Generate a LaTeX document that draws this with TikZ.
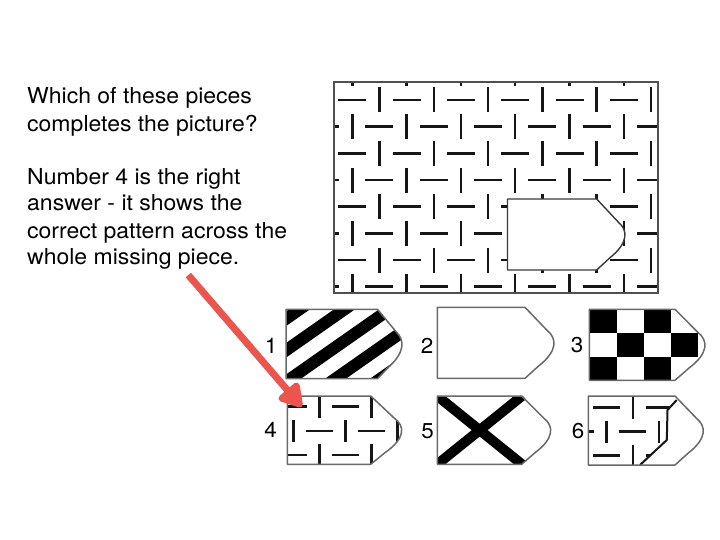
\documentclass[tikz,border=0pt]{standalone}
\usepackage{fontspec}
\setmainfont{TeX Gyre Heros}[FakeStretch=1.045]
\usetikzlibrary{arrows.meta}
\definecolor{arrowred}{RGB}{234,86,78}
\definecolor{ink}{RGB}{22,22,22}
\definecolor{edgegray}{RGB}{105,105,105}
\definecolor{framegray}{RGB}{80,80,80}

% piece outline: left, top, bottom, flat right end, tip x
\newcommand\pieceshape[5]{(#1,#2) -- (#4,#2) -- ({#4+0.75*(#5-#4)},{#2+0.32*(#3-#2)}) .. controls ({#4+1.12*(#5-#4)},{#2+0.44*(#3-#2)}) and ({#4+1.12*(#5-#4)},{#2+0.62*(#3-#2)}) .. ({#4+0.46*(#5-#4)},{#2+0.83*(#3-#2)}) -- (#4,#3) -- (#1,#3) -- cycle}

% dash pattern: ox, oy, period, row spacing, half horiz length, half vert length, last row, last column
\newcommand\dashgrid[8]{%
  \foreach \r in {-1,...,#7}{%
    \foreach \k in {-1,...,#8}{%
      \pgfmathtruncatemacro\rp{mod(\r+10,2)}%
      \pgfmathsetmacro\yy{#2+\r*#4}%
      \pgfmathsetmacro\xh{#1+(\k+0.5*\rp)*#3}%
      \pgfmathsetmacro\xv{#1+(\k+0.5*(1-\rp))*#3}%
      \draw[dashline] ({\xh-#5},\yy) -- ({\xh+#5},\yy);
      \draw[dashline] (\xv,{\yy-#6}) -- (\xv,{\yy+#6});
    }}}

\tikzset{
  dashline/.style={ink, line width=2.5pt},
  pieceline/.style={edgegray, line width=1.5pt, line join=round},
  txt/.style={anchor=base west, inner sep=0pt, font=\fontsize{22}{26}\selectfont},
  num/.style={inner sep=0pt, font=\fontsize{21.5}{26}\selectfont},
}

\begin{document}
\begin{tikzpicture}[x=1pt, y=-1pt]
\useasboundingbox (0,0) rectangle (720,540);
\fill[white] (0,0) rectangle (720,540);

% ---- text ----
\node[txt] (q1) at (27,103.3) {Which of these pieces};
\node[txt] (q2) at (27,131.5) {completes the picture?};
\node[txt] (a1) at (27,184.3) {Number 4 is the right};
\node[txt] (a2) at (27,211) {answer - it shows the};
\node[txt] (a3) at (27,238) {correct pattern across the};
\node[txt] (a4) at (27,264.5) {whole missing piece.};

% ---- main picture ----
\begin{scope}
  \clip (334,82) rectangle (658,293);
  \dashgrid{352.3}{100}{54.3}{26.67}{14}{12.5}{8}{6}
\end{scope}
\draw[framegray, line width=1.3pt] (334,82) rectangle (658,293);
\filldraw[fill=white, draw=ink!85, line width=1.4pt, line join=round] \pieceshape{507.5}{199}{270}{596.7}{625};

% ---- piece 1: stripes ----
\begin{scope}
  \clip \pieceshape{286}{309.3}{378.7}{377.5}{402};
  \foreach \k in {-2,...,3}{
    \draw[black, line width=12pt] ({290+45*\k-80},{379+56}) -- ({290+45*\k+120},{379-84});
  }
\end{scope}
\draw[pieceline] \pieceshape{286}{309.3}{378.7}{377.5}{402};

% ---- piece 2: blank ----
\draw[pieceline] \pieceshape{437.3}{307.3}{378.3}{525}{554};

% ---- piece 3: checkerboard ----
\begin{scope}
  \clip \pieceshape{589.3}{309.3}{380.3}{675}{705};
  \foreach \i in {0,1,2}{
    \foreach \j in {0,1,2,3}{
      \pgfmathtruncatemacro\cb{mod(\i+\j,2)}
      \ifnum\cb=0
        \fill[black] ({589.3+27.2*\j},{309.3+23.7*\i}) rectangle ({589.3+27.2*(\j+1)},{309.3+23.7*(\i+1)});
      \fi
    }}
\end{scope}
\draw[pieceline] \pieceshape{589.3}{309.3}{380.3}{675}{705};

% ---- piece 4: correct pattern ----
\begin{scope}
  \clip \pieceshape{287.3}{396}{464.3}{370.7}{401.7};
  \dashgrid{293.3}{406.7}{52}{24.2}{13.5}{11}{2}{3}
\end{scope}
\draw[pieceline] \pieceshape{287.3}{396}{464.3}{370.7}{401.7};

% ---- piece 5: cross ----
\begin{scope}
  \clip \pieceshape{437.3}{396}{464.3}{521.7}{550.7};
  \draw[black, line width=10pt] (437.3,396) -- (522,464.3);
  \draw[black, line width=10pt] (437.3,464.3) -- (522,396);
\end{scope}
\draw[pieceline] \pieceshape{437.3}{396}{464.3}{521.7}{550.7};

% ---- piece 6: broken pattern ----
\begin{scope}
  \clip (588.3,396) -- (677.5,396) -- (667.8,410) -- (667.2,440) -- (640.5,465) -- (588.3,465) -- cycle;
  \dashgrid{606.7}{407.7}{52.5}{24}{13.5}{11}{2}{2}
\end{scope}
\coordinate (j1) at (676.7,400);
\coordinate (j2) at (667.5,410);
\coordinate (j3) at (666.8,440);
\coordinate (j4) at (640,465);
\draw[ink, line width=2pt, line join=round] (j1) -- (j2) -- (j3) -- (j4);
\draw[pieceline] \pieceshape{588.3}{396}{465}{675}{703.3};

% ---- numbers ----
\node[num] (n1) at (271,345.5) {1};
\node[num] (n2) at (427,345.5) {2};
\node[num] (n3) at (577,345.5) {3};
\node[num] (n4) at (270.5,430) {4};
\node[num] (n5) at (427.5,431.5) {5};
\node[num] (n6) at (578,431.5) {6};

% ---- arrow ----
\coordinate (atail) at (188.3,275);
\coordinate (ahead) at (301.7,406.7);
\draw[arrowred, line width=7pt, -{Triangle[length=26pt,width=29pt,round]}] (atail) -- (ahead);
\end{tikzpicture}
\end{document}
